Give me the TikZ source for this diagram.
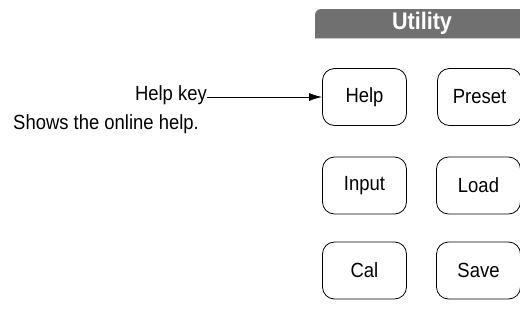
\documentclass[tikz,border=0pt]{standalone}
\usepackage{fontspec}
\setmainfont{Liberation Sans}[FakeStretch=0.9]
\usetikzlibrary{arrows.meta}
\definecolor{hdrgray}{RGB}{112,112,112}
\begin{document}
\begin{tikzpicture}[x=1pt,y=-1pt,
  key/.style={draw, rounded corners=12pt, minimum width=84pt, minimum height=57pt,
    line width=0.8pt, font=\fontsize{20.5}{24}\selectfont, inner sep=0pt},
  lbl/.style={font=\fontsize{20.5}{24}\selectfont, inner sep=0pt}]
\useasboundingbox (0,0) rectangle (520,322);
% header bar
\fill[hdrgray] (520,38) -- (315,38) [rounded corners=6pt] -- (315,9) [sharp corners] -- (520,9) -- cycle;
\draw[gray!45, line width=0.8pt] (315,38.4) -- (520,38.4);
\node[font=\fontsize{24}{27}\selectfont\bfseries, text=white, inner sep=0pt] (hdr) at (422,23.5) {Utility};
% keys
\node[key] (help)   at (364.5,97)  {Help};
\node[key] (preset) at (479.5,97)  {Preset};
\node[key] (input)  at (364.5,185.5) {Input};
\node[key] (load)   at (478.5,185.5) {Load};
\node[key] (cal)    at (364.5,270.5) {Cal};
\node[key] (save)   at (478.5,270.5) {Save};
% labels
\node[lbl, anchor=base east] (helpkey) at (207,100) {Help key};
\node[lbl, anchor=base west] (shows) at (13,129) {Shows the online help.};
\draw[line width=0.9pt, -{Latex[length=13pt,width=8pt]}] (helpkey.east |- help.west) -- (help.west);
\end{tikzpicture}
\end{document}
